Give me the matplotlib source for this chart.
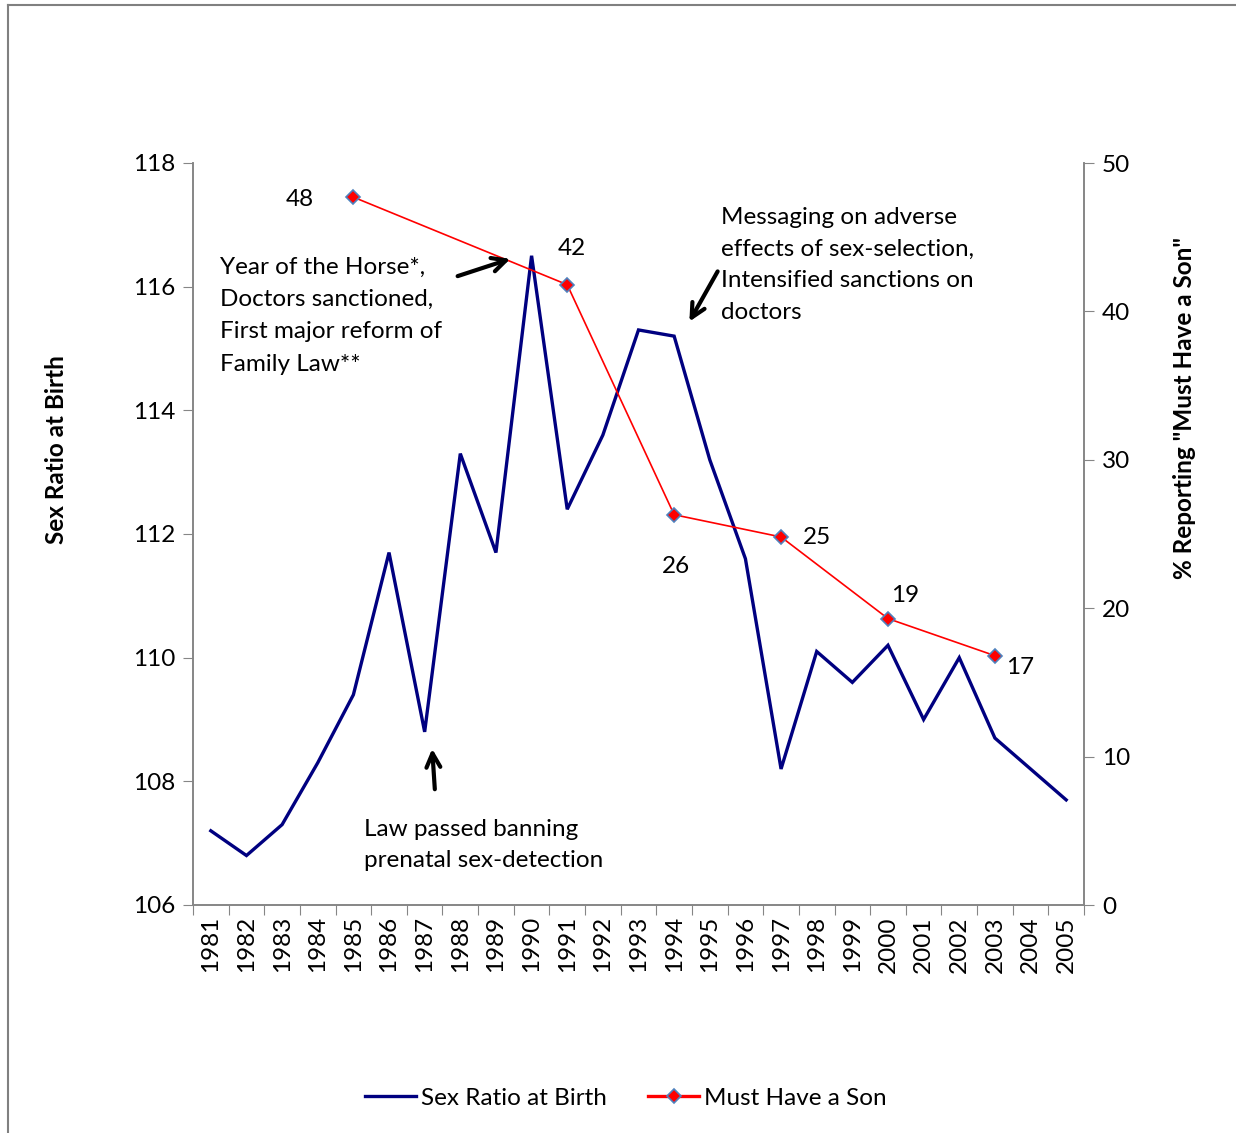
import matplotlib.pyplot as plt
from matplotlib.lines import Line2D
from matplotlib.patches import FancyArrowPatch

plt.rcParams['font.family'] = ['Lato', 'DejaVu Sans']

# 数据
years = [str(y) for y in range(1981, 2006)]
sex_ratio = [107.2, 106.8, 107.3, 108.3, 109.4, 111.7, 108.8, 113.3, 111.7, 116.5,
             112.4, 113.6, 115.3, 115.2, 113.2, 111.6, 108.2, 110.1, 109.6, 110.2,
             109.0, 110.0, 108.7, 108.2, 107.7]
son_years = ['1985', '1991', '1994', '1997', '2000', '2003']
must_have_son = [47.7, 41.8, 26.3, 24.8, 19.3, 16.8]
son_labels = ['48', '42', '26', '25', '19', '17']

W, H = 1236, 1133
fig = plt.figure(figsize=(W / 100, H / 100), dpi=100)

def fx(px):
    return px / W

def fy(py):
    return 1 - py / H

FS = 17.5

ax = fig.add_axes([fx(193), fy(905), fx(1084) - fx(193), fy(163) - fy(905)])
ax2 = ax.twinx()

x = list(range(len(years)))
ax.plot(x, sex_ratio, color='#000080', lw=2.4, solid_joinstyle='miter')
sx = [years.index(y) for y in son_years]
ax2.plot(sx, must_have_son, color='#FF0000', lw=1.2, marker='D', ms=7.5,
         mfc='#FF0000', mec='#4F81BD', mew=1.2)

ax.set_xlim(-0.5, len(years) - 0.5)
ax.set_ylim(106, 118)
ax.set_yticks(range(106, 119, 2))
ax2.set_ylim(0, 50)
ax2.set_yticks(range(0, 51, 10))

# x轴刻度在类别之间
ax.set_xticks([i - 0.5 for i in range(len(years) + 1)])
ax.set_xticklabels([])
ax.set_xticks(x, minor=True)
ax.set_xticklabels(years, minor=True, rotation=90, fontsize=FS)
ax.tick_params(axis='x', which='minor', length=0, pad=8)
ax.tick_params(axis='x', which='major', length=7, color='#868686', direction='out')

ax.tick_params(axis='y', labelsize=FS, length=7, color='#868686', pad=6)
ax2.tick_params(axis='y', labelsize=FS, length=7, color='#868686', pad=6)

for a in (ax, ax2):
    a.spines['top'].set_visible(False)
    for s in ('left', 'right', 'bottom'):
        a.spines[s].set_color('#868686')
        a.spines[s].set_linewidth(1.2)

fig.text(fx(57), fy(450), 'Sex Ratio at Birth', rotation=90, ha='center', va='center',
         fontsize=FS, fontweight='bold')
fig.text(fx(1185), fy(408), '% Reporting "Must Have a Son"', rotation=90, ha='center',
         va='center', fontsize=FS, fontweight='bold')

# 数据标签
label_pos = [(300, 199), (572, 248), (676, 566), (817, 538), (905, 596), (1020, 668)]
for lab, (px, py) in zip(son_labels, label_pos):
    fig.text(fx(px), fy(py), lab, ha='center', va='center', fontsize=FS)

# 注释文字
fig.text(fx(220), fy(257), 'Year of the Horse*,\nDoctors sanctioned,\nFirst major reform of\nFamily Law**',
         ha='left', va='top', fontsize=FS, linespacing=1.66)
fig.text(fx(721), fy(207), 'Messaging on adverse\neffects of sex-selection,\nIntensified sanctions on\ndoctors',
         ha='left', va='top', fontsize=FS, linespacing=1.63)
fig.text(fx(364), fy(819), 'Law passed banning\nprenatal sex-detection',
         ha='left', va='top', fontsize=FS, linespacing=1.6)

arrow = dict(arrowstyle='->', color='black', lw=3, mutation_scale=25)
for (x0, y0), (x1, y1) in [((455, 277), (513, 258)), ((435, 792), (432, 746)), ((719, 269), (688, 324))]:
    fig.add_artist(FancyArrowPatch((fx(x0), fy(y0)), (fx(x1), fy(y1)),
                                   transform=fig.transFigure, **arrow))

# 图例
handles = [Line2D([], [], color='#000080', lw=2.4),
           Line2D([], [], color='#FF0000', lw=2.4, marker='D', ms=7.5, mfc='#FF0000',
                  mec='#4F81BD', mew=1.2)]
fig.legend(handles, ['Sex Ratio at Birth', 'Must Have a Son'], loc='center',
           bbox_to_anchor=(fx(626), fy(1098)), ncol=2, frameon=False, fontsize=FS,
           handlelength=2.1, handletextpad=0.2, columnspacing=1.7)

# 外框
border = dict(color='#808080', lw=1.5, transform=fig.transFigure)
fig.add_artist(Line2D([fx(8), 1], [fy(5), fy(5)], **border))
fig.add_artist(Line2D([fx(8), fx(8)], [fy(5), 0], **border))

fig.savefig('out.png', dpi=100)
